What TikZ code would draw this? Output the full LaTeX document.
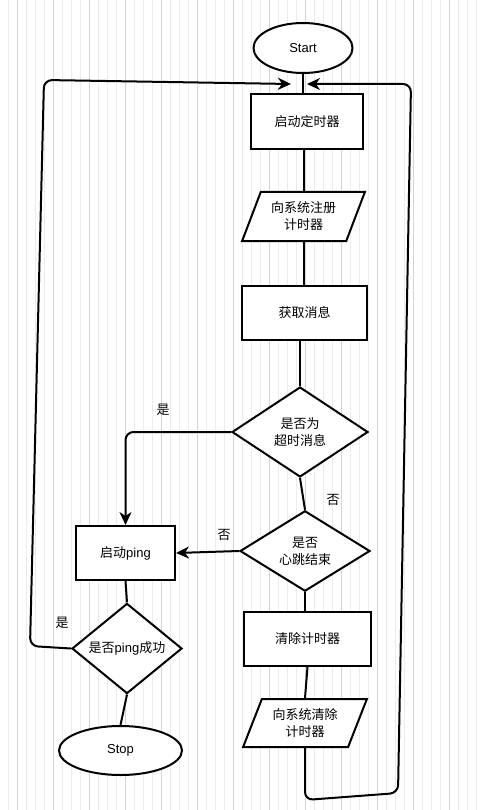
\documentclass[tikz,border=0pt]{standalone}
\usepackage{fontspec}
\usepackage{xcolor}
\usepackage{tikz}
\usetikzlibrary{shapes.geometric,arrows.meta}
\setmainfont{Liberation Sans}
\newfontfamily\cjk{Noto Sans CJK SC}

\definecolor{gridmajor}{HTML}{D4D4D4}
\definecolor{gridminor}{HTML}{ECECEC}

\tikzset{
  flowline/.style={line width=2pt, line join=round},
  flowarrow/.style={flowline, -{Stealth[length=13pt,width=12pt,inset=4pt]}},
  procbox/.style={draw, line width=2pt, fill=white, inner sep=0pt},
  termbox/.style={draw, line width=2pt, fill=white, ellipse, inner sep=0pt},
  iobox/.style={draw, line width=2pt, fill=white, trapezium, trapezium left angle=64,
    trapezium right angle=116, trapezium stretches=true, inner sep=0pt, align=center},
  testbox/.style={draw, line width=2pt, fill=white, diamond, inner sep=0pt, align=center},
  branchlabel/.style={inner sep=1pt}
}

\begin{document}
\begin{tikzpicture}[x=1pt, y=-1pt, font=\fontsize{13}{17}\selectfont]
\useasboundingbox (0,0) rectangle (484,810);
\fill[white] (0,0) rectangle (484,810);
\begin{scope}
\clip (0,0) rectangle (484,810);
\draw[gridminor, line width=0.6pt, shift={(8,8)}, step=9] (-9,-9) grid (485,811);
\draw[gridmajor, line width=0.7pt, shift={(17,17)}, step=36] (-36,-36) grid (484,810);
\end{scope}

% right-hand column
\node[termbox, minimum width=99, minimum height=50] (start) at (303,48) {Start};
\node[procbox, minimum width=112, minimum height=55] (timer) at (307,121.5) {\cjk 启动定时器};
\node[iobox, minimum width=123, minimum height=49] (reg) at (303.5,216.5) {\cjk 向系统注册\\\cjk 计时器};
\node[procbox, minimum width=125, minimum height=54] (fetch) at (304.5,313) {\cjk 获取消息};
\node[testbox, minimum width=136, minimum height=90] (timeout) at (300,432) {\cjk 是否为\\\cjk 超时消息};
\node[testbox, minimum width=130, minimum height=72] (beat) at (305,551) {\cjk 是否\\\cjk 心跳结束};
\node[procbox, minimum width=127, minimum height=54] (clear) at (307.5,639) {\cjk 清除计时器};
\node[iobox, minimum width=124, minimum height=48] (unreg) at (305,723) {\cjk 向系统清除\\\cjk 计时器};

% left-hand column
\node[procbox, minimum width=99, minimum height=54] (ping) at (125.5,553) {{\cjk 启动}ping};
\node[testbox, minimum width=110, minimum height=71] (ok) at (127,648.5) {{\cjk 是否}ping{\cjk 成功}};
\node[termbox, minimum width=123, minimum height=49] (stop) at (120.5,750.5) {Stop};

% loop corners
\coordinate (lb) at (30,646);
\coordinate (lt) at (44,80);
\coordinate (inL) at (291,84);
\coordinate (rb1) at (305,800);
\coordinate (rb2) at (398,793);
\coordinate (rt) at (411,84);
\coordinate (inR) at (307,84);

\draw[flowline] (start.south) -- (start.south |- timer.north);
\draw[flowline] (reg.north |- timer.south) -- (reg.north);
\draw[flowline] (reg.south) -- (reg.south |- fetch.north);
\draw[flowline] (timeout.north |- fetch.south) -- (timeout.north);
\draw[flowarrow, rounded corners=8] (timeout.west) -- (ping.north |- timeout.west) -- (ping.north);
\draw[flowline] (timeout.south) -- (beat.north);
\draw[flowarrow] (beat.west) -- (ping.east);
\draw[flowline] (beat.south) -- (beat.south |- clear.north);
\draw[flowline] (clear.south) -- (unreg.north);
\draw[flowline] (ping.south) -- (ok.north);
\draw[flowline] (ok.south) -- (stop.north);
\draw[flowarrow, rounded corners=8] (ok.west) -- (lb) -- (lt) -- (inL);
\draw[flowarrow, rounded corners=8] (unreg.south) -- (rb1) -- (rb2) -- (rt) -- (inR);

\node[branchlabel] (yes1) at (163,410) {\cjk 是};
\node[branchlabel] (no1) at (333,500) {\cjk 否};
\node[branchlabel] (no2) at (224,535) {\cjk 否};
\node[branchlabel] (yes2) at (62,623) {\cjk 是};
\end{tikzpicture}
\end{document}
